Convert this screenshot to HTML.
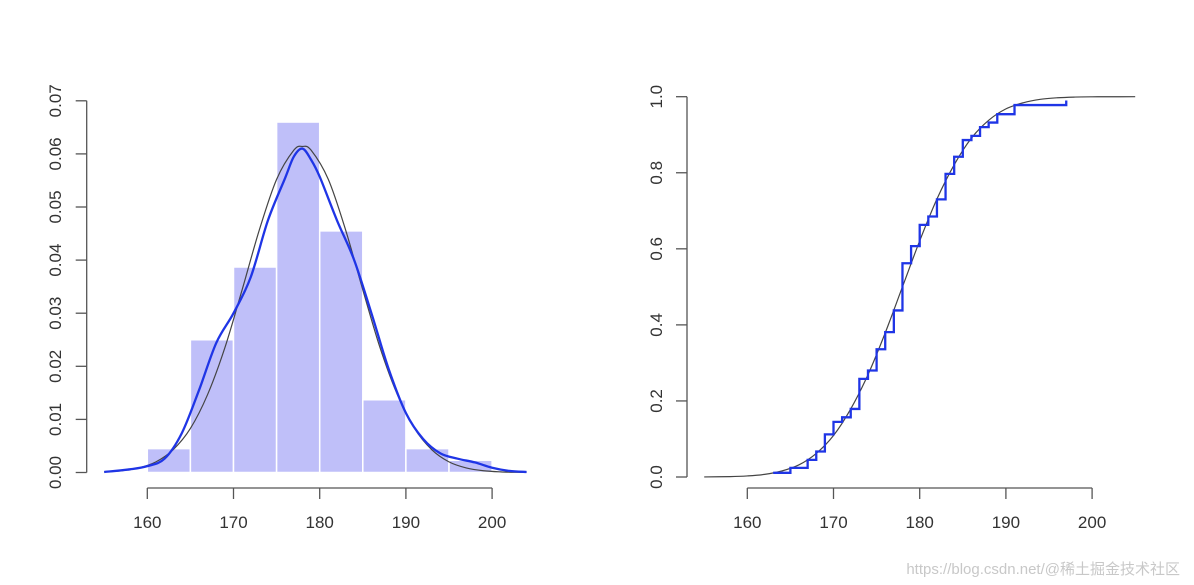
<!DOCTYPE html>
<html><head><meta charset="utf-8"><style>
html,body{margin:0;padding:0;background:#fff;}
svg{display:block;font-family:"Liberation Sans",Arial,sans-serif;}
</style></head><body>
<svg id="chart" width="1194" height="585" viewBox="0 0 1194 585" xmlns="http://www.w3.org/2000/svg">
<g id="left"></g>
<g id="right"></g>
<text x="1180" y="574" text-anchor="end" font-size="15" fill="#c8c8c8" font-family="'Liberation Sans','Noto Sans CJK SC',sans-serif">https://blog.csdn.net/@稀土掘金技术社区</text>
</svg>
<script>
// ---- data ----
const binEdges = [160,165,170,175,180,185,190,195,200];
const binDensity = [0.0045,0.025,0.0387,0.066,0.0455,0.0137,0.0045,0.0023];
const kdeX = [155,158,160,162,164,166,168,170,172,174,176,177,178,179,180,182,184,186,188,190,192,194,196,198,200,202,204];
const kdeY = [0.0001,0.0006,0.0012,0.0026,0.0074,0.0155,0.0244,0.030,0.0368,0.0475,0.0555,0.0595,0.061,0.0589,0.0557,0.0475,0.040,0.030,0.0195,0.0112,0.0063,0.0036,0.0026,0.0019,0.0009,0.0003,0.0001];
const normX = [155,157,159,161,163,165,167,169,171,173,175,177,178,179,181,183,185,187,189,191,193,195,197,199,201,203,204];
const normY = [0.00012,0.00033,0.00086,0.002,0.0043,0.0083,0.0147,0.0235,0.0344,0.0457,0.0552,0.0607,0.0614,0.0607,0.0552,0.0457,0.0344,0.0235,0.0147,0.0083,0.0043,0.002,0.00086,0.00033,0.00012,0.00004,0.00002];
const ecdfX = [163,165,167,168,169,170,171,172,173,174,175,176,177,178,179,180,181,182,183,184,185,186,187,188,189,191,197];
const ecdfY = [0.011,0.024,0.045,0.067,0.112,0.145,0.157,0.179,0.258,0.28,0.336,0.381,0.438,0.562,0.607,0.663,0.685,0.73,0.797,0.842,0.886,0.897,0.92,0.932,0.954,0.978,0.99];
const cdfX = [155,158,160,162,164,166,168,170,172,174,176,178,180,182,184,186,188,190,192,194,196,198,200,202,205];
const cdfY = [0.0002,0.001,0.0028,0.0069,0.0158,0.032,0.062,0.109,0.179,0.269,0.379,0.5,0.621,0.731,0.821,0.891,0.938,0.968,0.984,0.9931,0.9972,0.999,0.9997,0.9999,1.0];
const xTicks = [160,170,180,190,200];
const leftYTicks = [0,0.01,0.02,0.03,0.04,0.05,0.06,0.07];
const leftYLabels = ["0.00","0.01","0.02","0.03","0.04","0.05","0.06","0.07"];
const rightYTicks = [0,0.2,0.4,0.6,0.8,1.0];
const rightYLabels = ["0.0","0.2","0.4","0.6","0.8","1.0"];

const NS="http://www.w3.org/2000/svg";
function mk(parent,tag,attrs){const e=document.createElementNS(NS,tag);for(const k in attrs)e.setAttribute(k,attrs[k]);parent.appendChild(e);return e;}
function smooth(pts){let d="M"+pts[0][0].toFixed(2)+","+pts[0][1].toFixed(2);
 for(let i=0;i<pts.length-1;i++){const p0=pts[i-1]||pts[i],p1=pts[i],p2=pts[i+1],p3=pts[i+2]||p2;
  const c1=[p1[0]+(p2[0]-p0[0])/6,p1[1]+(p2[1]-p0[1])/6],c2=[p2[0]-(p3[0]-p1[0])/6,p2[1]-(p3[1]-p1[1])/6];
  d+=" C"+c1.map(v=>v.toFixed(2))+" "+c2.map(v=>v.toFixed(2))+" "+p2.map(v=>v.toFixed(2));}
 return d;}

function axes(g,sx,sy,yLeft,y0pix,yTicks,yLabels,labelX,xAxisY){
 const ax=mk(g,'g',{});
 
 
 mk(ax,'line',{x1:sx(xTicks[0]),x2:sx(xTicks[xTicks.length-1]),y1:xAxisY,y2:xAxisY,stroke:'#555','stroke-width':1.3});
 xTicks.forEach(t=>{mk(ax,'line',{x1:sx(t),x2:sx(t),y1:xAxisY,y2:xAxisY+11,stroke:'#555','stroke-width':1.3});
  const tx=mk(ax,'text',{x:sx(t),y:xAxisY+40,'text-anchor':'middle','font-size':17,fill:'#333'});tx.textContent=t;
  
  });
 const ay=mk(g,'g',{});
 
 
 mk(ay,'line',{x1:yLeft,x2:yLeft,y1:sy(yTicks[0]),y2:sy(yTicks[yTicks.length-1]),stroke:'#555','stroke-width':1.3});
 yTicks.forEach((t,i)=>{mk(ay,'line',{x1:yLeft-11,x2:yLeft,y1:sy(t),y2:sy(t),stroke:'#555','stroke-width':1.3});
  const tx=mk(ay,'text',{x:0,y:0,'text-anchor':'middle','font-size':17,fill:'#333',transform:`translate(${labelX},${sy(t)}) rotate(-90)`});tx.textContent=yLabels[i];
  
  });
}

// ---- left: histogram ----
(function(){
 const g=document.getElementById('left');
 const sx=v=>147.3+(v-160)*8.62;
 const sy=v=>472.5-v*5310;
 binDensity.forEach((d,i)=>{const r=mk(g,'rect',{x:sx(binEdges[i]),y:sy(d),width:sx(binEdges[i+1])-sx(binEdges[i]),height:sy(0)-sy(d),fill:'#bfbff9',stroke:'#fff','stroke-width':1.5});
  
  });
 const n=mk(g,'path',{d:smooth(normX.map((x,i)=>[sx(x),sy(normY[i])])),fill:'none',stroke:'#444','stroke-width':1.2});
 
 
 const k=mk(g,'path',{d:smooth(kdeX.map((x,i)=>[sx(x),sy(kdeY[i])])),fill:'none',stroke:'#1f35e6','stroke-width':2.3});
 
 
 axes(g,sx,sy,86.7,0,leftYTicks,leftYLabels,61,488);
})();

// ---- right: ECDF ----
(function(){
 const g=document.getElementById('right');
 const sx=v=>747.3+(v-160)*8.62;
 const sy=v=>477-v*380.3;
 const c=mk(g,'path',{d:smooth(cdfX.map((x,i)=>[sx(x),sy(cdfY[i])])),fill:'none',stroke:'#444','stroke-width':1.2});
 
 
 let d="M"+sx(ecdfX[0])+","+sy(ecdfY[0]);
 for(let i=1;i<ecdfX.length;i++){d+=" H"+sx(ecdfX[i])+" V"+sy(ecdfY[i]);}
 const e=mk(g,'path',{d:d,fill:'none',stroke:'#1f35e6','stroke-width':2.3});
 
 
 axes(g,sx,sy,687,0,rightYTicks,rightYLabels,662,488);
})();
</script>
</body></html>
